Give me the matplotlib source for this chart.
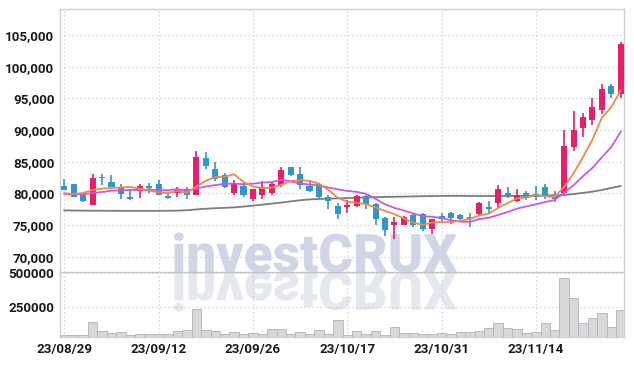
"""
Candlestick chart with 5/10/60-day moving averages and volume panel,
with an investCRUX watermark behind the plot.
"""

import matplotlib
matplotlib.use("Agg")
import matplotlib.pyplot as plt
from matplotlib.ticker import FuncFormatter, FixedLocator
from matplotlib.textpath import TextPath
from matplotlib.patches import PathPatch
from matplotlib.font_manager import FontProperties
from matplotlib.transforms import Affine2D

# ── Data ──────────────────────────────────────────────────────────────────────
dates = ["23/08/29", "23/08/30", "23/08/31", "23/09/01", "23/09/04", "23/09/05",
         "23/09/06", "23/09/07", "23/09/08", "23/09/11", "23/09/12", "23/09/13",
         "23/09/14", "23/09/15", "23/09/18", "23/09/19", "23/09/20", "23/09/21",
         "23/09/22", "23/09/25", "23/09/26", "23/09/27", "23/10/04", "23/10/05",
         "23/10/06", "23/10/10", "23/10/11", "23/10/12", "23/10/13", "23/10/16",
         "23/10/17", "23/10/18", "23/10/19", "23/10/20", "23/10/23", "23/10/24",
         "23/10/25", "23/10/26", "23/10/27", "23/10/30", "23/10/31", "23/11/01",
         "23/11/02", "23/11/03", "23/11/06", "23/11/07", "23/11/08", "23/11/09",
         "23/11/10", "23/11/13", "23/11/14", "23/11/15", "23/11/16", "23/11/17",
         "23/11/20", "23/11/21", "23/11/22", "23/11/23", "23/11/24", "23/11/27"]

opens = [81150, 81470, 79680, 78200, 82600, 81780, 81040, 79460, 80320, 81150,
         81470, 79570, 80000, 80630, 79780, 85570, 83890, 82840, 80100, 81150,
         79150, 79780, 80100, 81260, 84100, 83050, 81150, 81470, 79370, 77990,
         77890, 77990, 79570, 78310, 76100, 75040, 75040, 76530, 76730, 74410,
         76420, 76940, 76630, 76210, 76730, 77840, 78470, 80050, 78780, 80050,
         79940, 81000, 79730, 80050, 87310, 90360, 91520, 93100, 96890, 95630]
highs = [82210, 81500, 79700, 83050, 83000, 82890, 81420, 80630, 81470, 81670,
         82100, 80100, 81040, 80950, 86630, 86520, 84940, 83250, 82100, 81580,
         80730, 81890, 81780, 84100, 84200, 84100, 82100, 81600, 79780, 78420,
         78940, 79780, 79780, 78420, 76200, 76310, 76420, 76730, 76840, 75990,
         76840, 77000, 76700, 76940, 78630, 78740, 81310, 81000, 80680, 80360,
         81100, 81520, 80360, 89950, 93000, 92680, 95000, 97210, 97210, 103840]
lows = [80450, 79370, 78630, 78100, 81310, 81000, 79150, 78940, 79260, 80000,
        79680, 79150, 79370, 79150, 79700, 83790, 81990, 80900, 79780, 79460,
        78740, 79050, 79680, 81040, 82730, 80730, 80200, 79150, 77570, 75990,
        76840, 77790, 77470, 75040, 73260, 72740, 74950, 74630, 74000, 73570,
        75360, 75150, 75470, 74630, 76530, 76840, 77630, 79210, 78670, 78890,
        78990, 79100, 78670, 79940, 86680, 88890, 90790, 92470, 95000, 95000]
closes = [80520, 79460, 78830, 82420, 82450, 81040, 79890, 79150, 81150, 80840,
          79780, 79260, 80730, 79780, 85780, 84310, 82210, 81040, 81670, 79780,
          80630, 80950, 81470, 83680, 82940, 81260, 80410, 79370, 78740, 76730,
          78100, 79570, 78310, 75990, 74200, 75470, 76210, 74950, 74310, 75890,
          75990, 76100, 75990, 75890, 78470, 77470, 80680, 79620, 79730, 79210,
          79420, 79730, 79100, 87520, 90040, 92050, 93630, 96470, 95730, 103530]

volumes = [40000, 40000, 40000, 135000, 65000, 50000, 57500, 35000, 42500, 42500,
           42500, 42500, 65000, 75000, 230000, 75000, 65000, 42500, 57500, 45000,
           52500, 45000, 80000, 80000, 45000, 57500, 45000, 72500, 45000, 147500,
           40000, 65000, 45000, 65000, 35000, 95000, 52500, 52500, 45000, 45000,
           52500, 45000, 60000, 60000, 67500, 87500, 127500, 87500, 80000, 52500,
           60000, 127500, 75000, 462500, 312500, 127500, 162500, 202500, 97500, 225000]

ma5 = [79890, 79890, 80050, 80520, 80740, 80840, 80930, 80990, 80740, 80410,
       80160, 80040, 80350, 80080, 81070, 81970, 82560, 82620, 83000, 81800,
       81070, 80810, 80900, 81300, 81930, 82060, 81950, 81530, 80540, 79300,
       78670, 78500, 78290, 77740, 77230, 76710, 76040, 75360, 75030, 75370,
       75470, 75450, 75660, 75970, 76490, 76780, 77700, 78430, 79190, 79340,
       79730, 79540, 79440, 81000, 83160, 85690, 88470, 91940, 93580, 96280]
ma10 = [80000, 79890, 79850, 80050, 80200, 80400, 80480, 80520, 80540, 80580,
        80500, 80480, 80670, 80410, 80740, 81070, 81300, 81490, 81540, 81430,
        81520, 81690, 81760, 82150, 81870, 81560, 81380, 81220, 80920, 80620,
        80370, 80230, 79910, 79140, 78270, 77690, 77270, 76830, 76380, 76300,
        76090, 75740, 75510, 75500, 75930, 76130, 76570, 77040, 77580, 77920,
        78260, 78620, 78930, 80100, 81250, 82710, 84010, 85690, 87290, 89720]
ma60 = [77300, 77280, 77260, 77250, 77240, 77230, 77230, 77220, 77220, 77220,
        77230, 77240, 77260, 77320, 77450, 77560, 77640, 77700, 77780, 77900,
        78050, 78200, 78370, 78530, 78720, 78900, 79030, 79100, 79150, 79200,
        79250, 79300, 79350, 79390, 79420, 79450, 79480, 79510, 79540, 79560,
        79580, 79590, 79590, 79580, 79570, 79570, 79580, 79580, 79590, 79600,
        79620, 79650, 79680, 79730, 79880, 80060, 80260, 80520, 80840, 81150]

price_ticks = [70000, 75000, 80000, 85000, 90000, 95000, 100000, 105000]
vol_ticks = [250000, 500000]

# ── Style ─────────────────────────────────────────────────────────────────────
UP, DOWN = "#e61e6c", "#3196c9"
GRID = "#c6ccdd"
SPINE = "#d0d0d0"
W, H, DPI = 634, 366, 100

plt.rcParams["font.family"] = ["Roboto", "DejaVu Sans"]

fig = plt.figure(figsize=(W / DPI, H / DPI), dpi=DPI, facecolor="white")
ax = fig.add_axes([60 / W, (H - 272) / H, 564 / W, 263 / H], facecolor="none")
axv = fig.add_axes([60 / W, (H - 337) / H, 564 / W, 65 / H], facecolor="none",
                   sharex=ax)

x = list(range(len(dates)))

# ── Candles ───────────────────────────────────────────────────────────────────
colors = [UP if c >= o else DOWN for o, c in zip(opens, closes)]
ax.vlines(x, lows, highs, colors=colors, lw=1.2, zorder=3)
bottoms = [min(o, c) for o, c in zip(opens, closes)]
heights = [max(abs(c - o), 160) for o, c in zip(opens, closes)]
ax.bar(x, heights, bottom=bottoms, width=0.64, color=colors, lw=0, zorder=4)

# moving averages
ax.plot(x, ma60, color="#7c7c7c", lw=1.3, zorder=2)
ax.plot(x, ma10, color="#cc55ee", lw=1.3, zorder=5)
ax.plot(x, ma5, color="#f0884a", lw=1.3, zorder=6)

# ── Volume ────────────────────────────────────────────────────────────────────
axv.bar(x, volumes, width=1.0, color="#d8d8da", edgecolor="#b4b4b8", lw=0.6,
        zorder=3)

# ── Axes styling ──────────────────────────────────────────────────────────────
ax.set_xlim(-0.46, 59.35)
ax.set_ylim(67570, 109100)
axv.set_ylim(22500, 510000)

grid_kw = dict(color=GRID, lw=0.9, ls=(0, (1, 2.2)))
for a in (ax, axv):
    a.xaxis.set_major_locator(FixedLocator(list(range(0, len(dates), 10))))
    a.grid(True, **grid_kw)
    a.set_axisbelow(True)
    a.tick_params(length=0, pad=4, labelsize=9.6, labelcolor="#1a1a1a")
    for sp in a.spines.values():
        sp.set_color(SPINE)
        sp.set_linewidth(1.0)

ax.set_yticks(price_ticks)
ax.yaxis.set_major_formatter(FuncFormatter(lambda v, _: f"{v:,.0f}"))
ax.tick_params(labelbottom=False)
ax.spines["bottom"].set_color("#c4c4c4")

axv.set_yticks(vol_ticks)
axv.yaxis.set_major_formatter(FuncFormatter(lambda v, _: f"{v:.0f}"))
axv.spines["top"].set_visible(False)
axv.set_xticklabels([dates[i] for i in range(0, len(dates), 10)])

for lab in ax.get_yticklabels() + axv.get_yticklabels() + axv.get_xticklabels():
    lab.set_fontweight("bold")

# ── Watermark with reflection ─────────────────────────────────────────────────
fp = FontProperties(family="Roboto", weight="black")
tp = TextPath((0, 0), "investCRUX", size=100, prop=fp)
bb = tp.get_extents()
s = 283 / bb.width
x0, base = 174, H - 272
for sy, fc in [(s, "#d0d6e6"), (-s, "#e6e8ef")]:
    tr = (Affine2D().translate(-bb.x0, 0).scale(s, sy).translate(x0, base)
          .scale(1 / DPI) + fig.dpi_scale_trans)
    fig.add_artist(PathPatch(tp, transform=tr, fc=fc, ec="none", zorder=-2))

fig.savefig("out.png", dpi=DPI, facecolor="white")
